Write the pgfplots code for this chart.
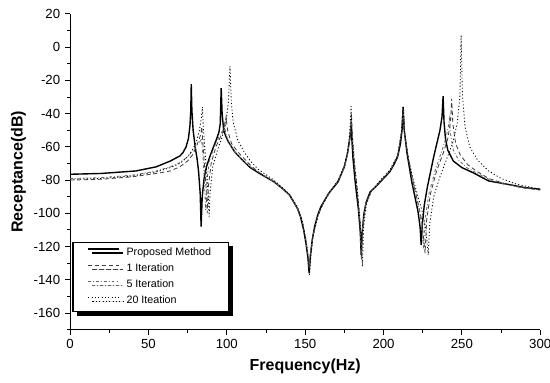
\documentclass[border=0pt]{standalone}
\usepackage{fontspec}
\setmainfont{Liberation Sans}
\usepackage{pgfplots}
\pgfplotsset{compat=1.18}
\usetikzlibrary{shadows}
\begin{document}
\begin{tikzpicture}
\path[use as bounding box] (-50.4pt,-38pt) rectangle (345pt,237pt);
\begin{axis}[
  scale only axis, width=338pt, height=227pt,
  at={(0,0)}, anchor=south west,
  xmin=0, xmax=300, ymin=-170, ymax=20,
  axis lines*=left,
  axis line style={line width=0.8pt},
  tick align=outside,
  xtick={0,50,...,300}, minor xtick={25,75,...,275},
  ytick={-160,-140,...,20}, minor ytick={-170,-150,...,10},
  major tick length=3.6pt, minor tick length=2.2pt,
  tick style={black, line width=0.7pt},
  /pgf/number format/assume math mode=true,
  ticklabel style={font=\fontsize{9.5}{11}\selectfont},
  xlabel={\bfseries Frequency(Hz)},
  ylabel={\bfseries Receptance(dB)},
  label style={font=\fontsize{11.5}{13}\selectfont},
  xlabel style={at={(axis description cs:0.5,-0.115)}, anchor=center},
  ylabel style={at={(axis description cs:-0.11,0.5)}, anchor=center},
  legend cell align=left,
  legend style={at={(axis description cs:0.005,0.279)}, anchor=north west,
    draw=black, line width=0.8pt, fill=white,
    drop shadow={shadow xshift=3pt, shadow yshift=-3pt, fill=black, opacity=1},
    font=\fontsize{7.7}{9}\selectfont, inner xsep=10.5pt, inner ysep=2pt,
    row sep=0.5pt,
    /tikz/every odd column/.append style={column sep=3pt}},
  legend image code/.code={\draw[#1] plot coordinates {(0pt,2.7pt) (11pt,2.7pt) (22pt,2.7pt)};},
]
% Proposed Method
\addplot[black, line width=1pt] coordinates {
(0,-76.5) (20,-76) (42,-74.5) (55,-72) (64,-68.5) (70,-65.5) (72,-63.5) (74,-60) (75.5,-55) (76.5,-47) (77,-38) (77.3,-22.3) (77.7,-38) (78.5,-50) (79.8,-60) (81,-67) (82,-75) (83,-88) (83.6,-108) (84.3,-90) (85.5,-79) (87,-72) (89.3,-65.5) (91.5,-60) (93.6,-55) (95,-51) (95.8,-46) (96.4,-24.7) (97,-40) (98,-50) (99.5,-54) (101,-57) (105,-63) (110,-68) (115,-72.5) (120,-75.5) (130,-81) (136,-85.5) (140,-89) (145,-97) (147,-102) (149,-110) (150.5,-118) (151.8,-127) (152.5,-136) (153.3,-126) (154.5,-116) (156,-108) (158,-101) (160,-96) (165,-88) (171,-81) (175,-72) (177,-64) (178.3,-56) (179,-51) (179.3,-46) (179.7,-54) (180.5,-67) (182,-82) (184,-98) (185.2,-112) (185.7,-125) (186.3,-112) (187.5,-100) (189,-93) (191.5,-87) (195,-84) (198,-81) (204,-75) (207,-70) (209,-66) (210.8,-58) (211.8,-50) (212.5,-36) (213.2,-50) (215,-64) (218,-81) (220,-90) (222,-99) (223.3,-108) (224,-119) (224.8,-106) (226,-95) (228,-84) (230,-75) (232,-66) (234,-58) (236,-50) (237.3,-42) (238,-29.5) (238.6,-45) (239.5,-55) (241,-62) (244.5,-68.5) (250,-72.5) (257,-75.5) (267,-80.5) (279,-82.5) (290,-84.5) (300,-85.5)
};
\addlegendentry{Proposed Method}
% 1 Iteration
\addplot[black!75, line width=0.6pt, dash pattern=on 3pt off 2pt] coordinates {
(0,-80) (20,-79.5) (40,-78) (55,-76) (64,-74.5) (70,-72) (75,-68.5) (78,-65) (80.5,-60) (82.5,-55) (83.5,-52) (84,-48) (84.6,-56) (85.5,-68) (86.6,-82) (87.5,-100) (88.2,-84) (90,-70) (93,-60) (96,-54) (98.5,-49) (99.5,-42) (100.5,-50) (103,-58) (107,-63) (111,-67) (115,-71) (120,-75) (130,-81) (136,-85.5) (140,-89) (145,-97) (148,-104) (150.5,-116) (151.8,-126) (152.6,-134) (153.4,-124) (155,-113) (158,-102) (160,-97) (165,-88) (171,-80.5) (175,-72) (177,-64) (178.5,-55) (179.5,-40) (180.2,-54) (181.5,-70) (183.5,-88) (185.2,-108) (186,-128) (186.8,-108) (188.5,-95) (192,-87) (198,-80.5) (204,-74.5) (209,-65.5) (211.3,-52) (212.5,-38) (213.5,-53) (216,-68) (219,-82) (222,-94) (224.5,-105) (226.5,-124) (227.5,-104) (230,-88) (234,-74) (238,-64) (241,-55) (242.7,-45) (243.5,-31) (244.2,-46) (246,-58) (249,-65) (254,-71) (260,-75) (267,-79) (277,-82) (288,-84.5) (300,-86)
};
\addlegendentry{1 Iteration}
% 5 Iteration
\addplot[black!60, line width=0.6pt, dash pattern=on 2pt off 1.5pt on 0.6pt off 1.5pt] coordinates {
(0,-79) (20,-78.5) (40,-77) (55,-74.5) (64,-72) (70,-69.5) (75,-66) (78,-62.5) (80.5,-59) (82.5,-57.5) (83.8,-55) (84.5,-62) (85.5,-78) (86.5,-98) (87.3,-80) (89,-68) (92,-60) (95,-54) (97.5,-50) (98.5,-46) (99.3,-52) (101.5,-58) (105,-63) (110,-68) (115,-72) (120,-75) (130,-81) (136,-85.5) (140,-89) (145,-97) (148,-104) (150.5,-117) (151.8,-125) (152.5,-132) (153.3,-123) (155,-113) (158,-102) (160,-96.5) (165,-88) (171,-80.5) (175,-72) (177,-64) (178.4,-55) (179.4,-42) (180,-55) (181.3,-70) (183.3,-88) (185,-108) (185.8,-127) (186.6,-108) (188.3,-95) (192,-87) (198,-80.5) (204,-74.5) (209,-65.5) (211.3,-52) (212.5,-37) (213.5,-52) (216,-67) (219,-81) (222,-94) (224.3,-106) (225.5,-121) (226.4,-104) (229,-88) (233,-74) (237,-63) (240,-54) (241.3,-48) (242,-43) (242.7,-52) (244.5,-62) (248,-68) (253,-72.5) (260,-76) (267,-79.5) (277,-82.5) (288,-84.5) (300,-86)
};
\addlegendentry{5 Iteration}
% 20 Iteation
\addplot[black, line width=0.6pt, dash pattern=on 0.8pt off 1.6pt] coordinates {
(0,-79.5) (20,-79) (40,-77.5) (55,-75) (64,-72.5) (70,-70) (75,-66) (78,-62) (80.5,-57) (82.5,-50) (83.7,-43) (84.4,-36) (85,-48) (86,-62) (87.3,-78) (88.2,-90) (88.7,-102) (89.3,-88) (91,-72) (94,-62) (97,-54) (99.5,-45) (101,-33) (102,-11.5) (102.8,-32) (104,-45) (107,-56) (111,-63) (115,-68.5) (120,-73.5) (130,-80) (136,-85) (140,-88.5) (145,-96) (148,-104) (150.5,-116) (152,-128) (152.8,-137) (153.6,-126) (155,-114) (158,-102) (160,-97) (165,-88) (171,-80) (175,-71) (177,-63) (178.3,-53) (179.3,-35.5) (179.8,-50) (181,-67) (183,-84) (185,-104) (186.5,-132) (187.3,-108) (189,-95) (192,-87) (198,-80) (204,-74) (209,-65) (211.3,-52) (212.5,-36) (213.5,-52) (216,-68) (219,-80) (222,-90) (225,-100) (227,-110) (228.5,-125) (229.5,-106) (232,-90) (236,-78) (240,-68) (244,-58) (247,-46) (248.7,-30) (249.5,7) (250.3,-28) (252,-48) (255,-60) (260,-68) (267,-74.5) (275,-79) (285,-82.5) (300,-85.5)
};
\addlegendentry{20 Iteation}
\end{axis}
\end{tikzpicture}
\end{document}
